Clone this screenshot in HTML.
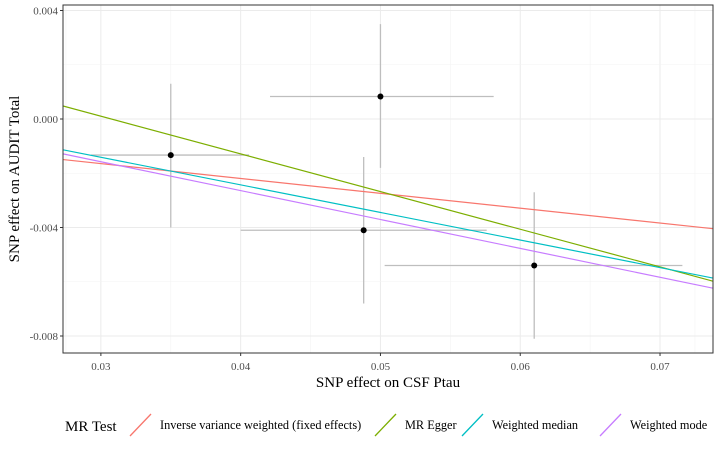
<!DOCTYPE html>
<html><head><meta charset="utf-8"><style>body{margin:0;background:#fff}svg{display:block;font-family:"Liberation Serif",serif}</style></head>
<body>
<svg id="c" width="720" height="451"></svg>
<script>
const xTicks=[0.03,0.04,0.05,0.06,0.07];
const yTicks=[0.004,0,-0.004,-0.008];
const yTickLabels=["0.004","0.000","-0.004","-0.008"];
const ptX=[0.0350,0.0500,0.0488,0.0610];
const ptY=[-0.00133,0.00083,-0.0041,-0.0054];
const xLo=[0.0293,0.0421,0.0400,0.0503];
const xHi=[0.0406,0.0581,0.0576,0.0716];
const yLo=[-0.0040,-0.0018,-0.0068,-0.0081];
const yHi=[0.0013,0.0035,-0.0014,-0.0027];
const methods=["Inverse variance weighted (fixed effects)","MR Egger","Weighted median","Weighted mode"];
const intercepts=[0,0.00427,0.00164,0.00162];
const slopes=[-0.0548,-0.1389,-0.1017,-0.1065];
const colors=["#F8766D","#7CAE00","#00BFC4","#C77CFF"];
const L=63,R=713,T=5,B=353,x0=0.02729,x1=0.07379;
const X=v=>L+(v-x0)/(x1-x0)*(R-L);
const Y=v=>119-v*27125;
const s=document.getElementById('c'),NS="http://www.w3.org/2000/svg";
function mk(t,a,p){const e=document.createElementNS(NS,t);for(const k in a)e.setAttribute(k,a[k]);(p||s).appendChild(e);return e;}
const clip=mk('clipPath',{id:'cp'});mk('rect',{x:L,y:T,width:R-L,height:B-T},clip);
xTicks.forEach((v,i)=>{
 const g=mk('line',{x1:X(v),x2:X(v),y1:T,y2:B,stroke:'#ebebeb','stroke-width':1});
 
 if(i<xTicks.length-1){const m=mk('line',{x1:X(v+0.005),x2:X(v+0.005),y1:T,y2:B,stroke:'#f3f3f3','stroke-width':0.6});}
 const t=mk('text',{x:X(v),y:B+17,'text-anchor':'middle','font-size':11,fill:'#4d4d4d'});t.textContent=v.toFixed(2);
 
 mk('line',{x1:X(v),x2:X(v),y1:B,y2:B+3,stroke:'#333'});
});
[0.0275,0.0725].forEach(v=>{const m=mk('line',{x1:X(v),x2:X(v),y1:T,y2:B,stroke:'#f3f3f3','stroke-width':0.6});});
yTicks.forEach((v,i)=>{
 const g=mk('line',{x1:L,x2:R,y1:Y(v),y2:Y(v),stroke:'#ebebeb','stroke-width':1});
 
 if(i<yTicks.length-1){const m=mk('line',{x1:L,x2:R,y1:Y(v-0.002),y2:Y(v-0.002),stroke:'#f3f3f3','stroke-width':0.6});}
 const t=mk('text',{x:L-5,y:Y(v)+4,'text-anchor':'end','font-size':11,fill:'#4d4d4d'});t.textContent=yTickLabels[i];
 
 mk('line',{x1:L-3,x2:L,y1:Y(v),y2:Y(v),stroke:'#333'});
});
ptX.forEach((v,i)=>{
 const h=mk('line',{x1:X(xLo[i]),x2:X(xHi[i]),y1:Y(ptY[i]),y2:Y(ptY[i]),stroke:'#bebebe','stroke-width':1.3,'clip-path':'url(#cp)'});
 
 const vv=mk('line',{x1:X(v),x2:X(v),y1:Y(yLo[i]),y2:Y(yHi[i]),stroke:'#bebebe','stroke-width':1.3,'clip-path':'url(#cp)'});
 
});
methods.forEach((m,i)=>{
 const l=mk('line',{x1:X(x0),y1:Y(intercepts[i]+slopes[i]*x0),x2:X(x1),y2:Y(intercepts[i]+slopes[i]*x1),stroke:colors[i],'stroke-width':1.2,'clip-path':'url(#cp)'});
 
});
ptX.forEach((v,i)=>{const c=mk('circle',{cx:X(v),cy:Y(ptY[i]),r:3,fill:'#000'});});
const fr=mk('rect',{x:L,y:T,width:R-L,height:B-T,fill:'none',stroke:'#333','stroke-width':1});

const xt=mk('text',{x:(L+R)/2,y:387,'text-anchor':'middle','font-size':15});xt.textContent='SNP effect on CSF Ptau';

const yt=mk('text',{x:0,y:0,'text-anchor':'middle','font-size':15,transform:'translate(19,'+((T+B)/2)+') rotate(-90)'});yt.textContent='SNP effect on AUDIT Total';

const lt=mk('text',{x:65,y:431,'font-size':15});lt.textContent='MR Test';

const keyX=[130,375,462,600];
methods.forEach((m,i)=>{
 const g=mk('g',{});
 mk('line',{x1:keyX[i],y1:436,x2:keyX[i]+21,y2:414,stroke:colors[i],'stroke-width':1.3},g);
 const t=mk('text',{x:keyX[i]+30,y:429,'font-size':12.3},g);t.textContent=m;
});
</script>
</body></html>
